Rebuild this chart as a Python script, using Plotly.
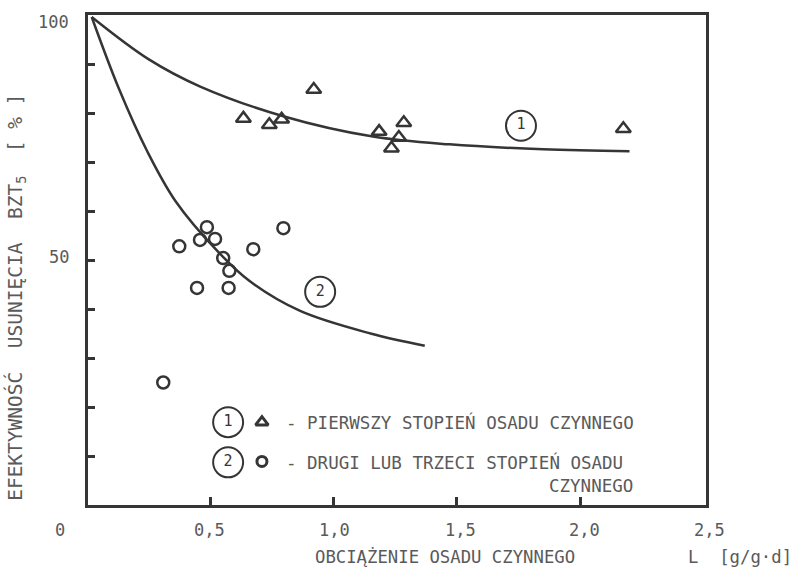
import plotly.graph_objects as go

# Fitted curves (load L vs BOD5 removal efficiency)
curve1_x = [0.02, 0.25, 0.46, 0.80, 1.16, 1.47, 1.85, 2.20]
curve1_y = [99.6, 91.0, 85.4, 79.3, 75.2, 73.6, 72.6, 72.2]
curve2_x = [0.02, 0.13, 0.245, 0.36, 0.53, 0.66, 0.865, 1.15, 1.37]
curve2_y = [99.6, 85.0, 72.2, 62.0, 51.8, 45.7, 39.6, 35.0, 32.5]

# Measurements: first stage (triangles)
stage1_x = [0.635, 0.74, 0.79, 0.92, 1.185, 1.235, 1.265, 1.285, 2.175]
stage1_y = [78.9, 77.6, 78.7, 84.8, 76.2, 72.8, 75.0, 78.0, 76.8]

# Measurements: second or third stage (circles)
stage2_x = [0.375, 0.487, 0.459, 0.52, 0.553, 0.578, 0.447, 0.575, 0.675, 0.797, 0.31]
stage2_y = [52.8, 56.7, 54.1, 54.3, 50.4, 47.8, 44.3, 44.3, 52.2, 56.5, 25.0]

x_ticks = [0.5, 1.0, 1.5, 2.0]
x_tick_labels = ["0", "0,5", "1,0", "1,5", "2,0", "2,5"]
x_label_px = [60, 209, 334, 460, 584, 709]
y_ticks = [10, 20, 30, 40, 50, 60, 70, 80, 90]
y_tick_labels = ["100", "50"]
y_label_px = [20, 256]

INK = "#353535"
TXT = "#5a5a5a"
FONT = "DejaVu Sans Mono"

W, H = 808, 571
L, R, T, B = 88, 102, 13, 66
pw, ph = W - L - R, H - T - B


def px(xpix):
    return (xpix - L) / pw


def py(ypix):
    return (H - B - ypix) / ph


fig = go.Figure()

fig.add_trace(go.Scatter(x=curve1_x, y=curve1_y, mode="lines",
                         line=dict(color=INK, width=2.5, shape="spline", smoothing=1.0)))
fig.add_trace(go.Scatter(x=curve2_x, y=curve2_y, mode="lines",
                         line=dict(color=INK, width=2.5, shape="spline", smoothing=1.0)))
fig.add_trace(go.Scatter(x=stage1_x, y=stage1_y, mode="markers",
                         marker=dict(symbol="triangle-up-open", size=13,
                                     color=INK, line=dict(width=2.5, color=INK))))
fig.add_trace(go.Scatter(x=stage2_x, y=stage2_y, mode="markers",
                         marker=dict(symbol="circle-open", size=12,
                                     color=INK, line=dict(width=2.5, color=INK))))

# Circled curve numbers (on curves and in the key)
num_x = [1.76, 0.946, 0.573, 0.573]
num_y = [77.4, 43.5, 16.9, 8.7]
num_t = ["1", "2", "1", "2"]
fig.add_trace(go.Scatter(x=num_x, y=num_y, mode="markers+text", text=num_t,
                         textposition="middle center",
                         textfont=dict(family=FONT, size=15, color=INK),
                         marker=dict(symbol="circle-open", size=30,
                                     color=INK, line=dict(width=2, color=INK))))

# Key symbols
fig.add_trace(go.Scatter(x=[0.71], y=[16.9], mode="markers",
                         marker=dict(symbol="triangle-up-open", size=11,
                                     color=INK, line=dict(width=3, color=INK))))
fig.add_trace(go.Scatter(x=[0.71], y=[8.9], mode="markers",
                         marker=dict(symbol="circle-open", size=10,
                                     color=INK, line=dict(width=3, color=INK))))

ann = []
for t, xp in zip(x_tick_labels, x_label_px):
    ann.append(dict(x=px(xp), y=py(530), xref="paper", yref="paper", text=t,
                    showarrow=False, xanchor="center", yanchor="middle",
                    font=dict(family=FONT, size=17, color=TXT)))
for t, yp in zip(y_tick_labels, y_label_px):
    ann.append(dict(x=px(71), y=py(yp), xref="paper", yref="paper", text=t,
                    showarrow=False, xanchor="right", yanchor="middle",
                    font=dict(family=FONT, size=17, color=TXT)))

ann += [
    dict(x=0.80, y=16.9, xref="x", yref="y", xanchor="left",
         text="- PIERWSZY STOPIEŃ OSADU CZYNNEGO", showarrow=False,
         font=dict(family=FONT, size=17.5, color=TXT)),
    dict(x=0.80, y=8.6, xref="x", yref="y", xanchor="left",
         text="- DRUGI LUB TRZECI STOPIEŃ OSADU", showarrow=False,
         font=dict(family=FONT, size=17.5, color=TXT)),
    dict(x=1.865, y=3.9, xref="x", yref="y", xanchor="left",
         text="CZYNNEGO", showarrow=False,
         font=dict(family=FONT, size=17.5, color=TXT)),
    dict(x=px(313), y=py(557), xref="paper", yref="paper",
         xanchor="left", yanchor="middle", showarrow=False,
         text="OBCIĄŻENIE OSADU CZYNNEGO",
         font=dict(family=FONT, size=17.3, color=TXT)),
    dict(x=px(686), y=py(557), xref="paper", yref="paper",
         xanchor="left", yanchor="middle", showarrow=False,
         text="L  [g/g·d]",
         font=dict(family=FONT, size=17.3, color=TXT)),
    dict(x=px(16), y=py(297), xref="paper", yref="paper",
         xanchor="center", yanchor="middle", showarrow=False,
         textangle=-90,
         text="EFEKTYWNOŚĆ  USUNIĘCIA  BZT<sub>5</sub>  [ % ]",
         font=dict(family=FONT, size=19.5, color=TXT)),
]

fig.update_layout(
    width=W, height=H,
    margin=dict(l=L, r=R, t=T, b=B),
    paper_bgcolor="white", plot_bgcolor="white",
    showlegend=False,
    xaxis=dict(range=[0.005, 2.51], showgrid=False, zeroline=False,
               tickvals=x_ticks, ticks="inside", ticklen=8, tickwidth=2.5,
               tickcolor=INK, showticklabels=False,
               showline=True, linewidth=3, linecolor=INK, mirror=True),
    yaxis=dict(range=[0, 100], showgrid=False, zeroline=False,
               tickvals=y_ticks, ticks="inside", ticklen=7, tickwidth=2.5,
               tickcolor=INK, showticklabels=False,
               showline=True, linewidth=3, linecolor=INK, mirror=True),
    annotations=ann,
)

fig.write_html("out.html")
